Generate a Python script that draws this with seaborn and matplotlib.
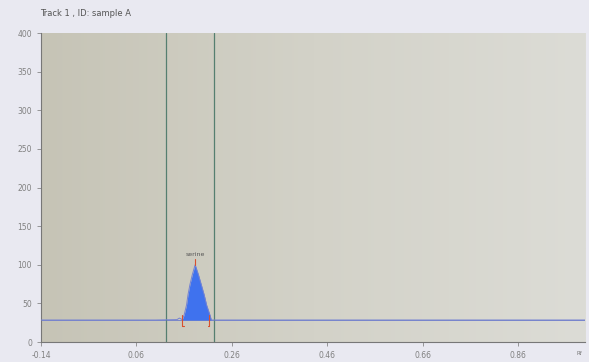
import numpy as np
import pandas as pd
import matplotlib
matplotlib.use("Agg")
import matplotlib.pyplot as plt
import seaborn as sns

# ---- data ----
rf = [-0.14, 0.10, 0.145, 0.150, 0.156, 0.160, 0.165, 0.168, 0.172, 0.177,
      0.183, 0.190, 0.196, 0.202, 0.207, 0.214, 0.217, 0.25, 1.0]
signal = [28.5, 28.5, 29, 31, 29, 35, 48, 61, 74, 87,
          100, 87, 74, 61, 48, 35, 28.5, 28.5, 28.5]
baseline_level = 28.5
peak_start, peak_end = 0.156, 0.213
peak_apex_rf, peak_apex_val = 0.183, 100
peak_name = "serine"
window_lines = [0.123, 0.222]
x_ticks = [-0.14, 0.06, 0.26, 0.46, 0.66, 0.86]
y_ticks = [0, 50, 100, 150, 200, 250, 300, 350, 400]
title = "Track 1 , ID: sample A"

df = pd.DataFrame({"rf": rf, "signal": signal})

sns.set_theme(style="white")
plt.rcParams['font.family'] = ['DejaVu Sans']

fig = plt.figure(figsize=(5.89, 3.62), dpi=100)
fig.patch.set_facecolor("#e9e9f1")
ax = fig.add_axes([0.0696, 0.0552, 0.9236, 0.8536])

# plot-area gradient background
grad = np.linspace(0, 1, 256).reshape(1, -1)
cmap = matplotlib.colors.LinearSegmentedColormap.from_list(
    "bg", ["#c6c4b6", "#d3d2c8", "#dcdcd6"])
ax.imshow(grad, aspect="auto", cmap=cmap, extent=[0, 1, 0, 1],
          transform=ax.transAxes, zorder=0)

# peak fill
mask = (df.rf >= peak_start) & (df.rf <= 0.2175)
sub = df[mask]
ax.fill_between(sub.rf, baseline_level, sub.signal, color="#3f72ee", zorder=3,
                linewidth=0)

# trace
sns.lineplot(data=df, x="rf", y="signal", ax=ax, color="#7482d2", lw=0.7,
             zorder=4)
ax.axhline(baseline_level, color="#7a86c8", lw=0.7, zorder=2)

# integration window lines
for xv in window_lines:
    ax.axvline(xv, color="#557f70", lw=0.9, zorder=2)

# red peak-boundary markers
for xv, d in [(peak_start, 0.003), (peak_end, -0.003)]:
    ax.plot([xv, xv], [baseline_level - 8, baseline_level + 6], color="#d8502e",
            lw=0.8, zorder=5)
    ax.plot([xv, xv + d], [baseline_level - 8, baseline_level - 8],
            color="#d8502e", lw=0.8, zorder=5)
ax.plot([peak_apex_rf, peak_apex_rf], [peak_apex_val, peak_apex_val + 8],
        color="#d8502e", lw=0.8, zorder=5)
ax.text(peak_apex_rf, peak_apex_val + 10, peak_name, fontsize=4.5,
        ha="center", va="bottom", color="#555555")

ax.set_xlim(-0.14, 1.0)
ax.set_ylim(0, 400)
ax.set_xticks(x_ticks)
ax.set_xticklabels([f"{v:.2f}" for v in x_ticks])
ax.set_yticks(y_ticks)
ax.tick_params(axis="both", labelsize=5.5, colors="#888888", length=3,
               width=0.6, direction="out", bottom=True, left=True)
for lbl in ax.get_xticklabels() + ax.get_yticklabels():
    lbl.set_color("#808080")
ax.set_xlabel("")
ax.set_ylabel("")
for s in ["top", "right"]:
    ax.spines[s].set_visible(False)
for s in ["left", "bottom"]:
    ax.spines[s].set_color("#777777")
    ax.spines[s].set_linewidth(0.8)

fig.text(0.068, 0.962, title, fontsize=6, color="#555555", ha="left",
         va="center")
fig.text(0.978, 0.018, "Rf", fontsize=4, color="#777777", ha="left")

fig.savefig("out.png", dpi=100, facecolor=fig.get_facecolor())
